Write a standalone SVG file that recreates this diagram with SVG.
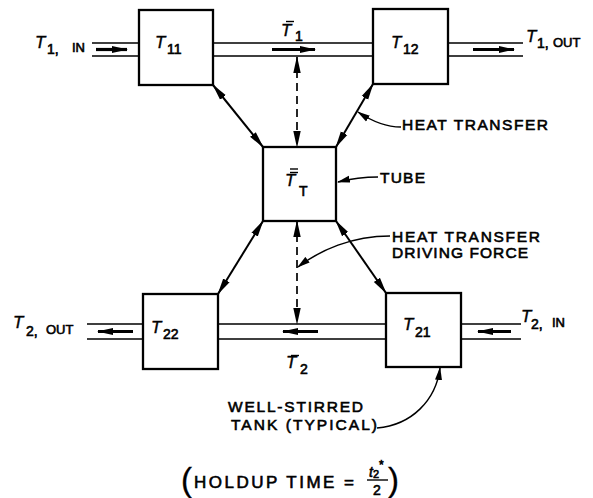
<svg xmlns="http://www.w3.org/2000/svg" width="593" height="498" viewBox="0 0 593 498">
<style>
.box{fill:#fff;stroke:#000;stroke-width:2.3}
.pipe{stroke:#000;stroke-width:1.7;fill:none}
.flow{stroke:#000;stroke-width:3.2;fill:none}
.link{stroke:#000;stroke-width:2;fill:none}
.dash{stroke:#000;stroke-width:1.7;fill:none;stroke-dasharray:8 5}
.lead{stroke:#000;stroke-width:1.5;fill:none}
.lbl{font-family:"Liberation Sans",Arial,sans-serif;font-size:15.5px;fill:#000;stroke:#000;stroke-width:0.6}
.T{font-family:"Liberation Sans",Arial,sans-serif;font-style:italic;font-size:17px;fill:#000;stroke:#000;stroke-width:0.4}
.sub{font-family:"Liberation Sans",Arial,sans-serif;font-size:14px;fill:#000;stroke:#000;stroke-width:0.6}
.sm{font-family:"Liberation Sans",Arial,sans-serif;font-size:13px;fill:#000;stroke:#000;stroke-width:0.6}
.bar{stroke:#000;stroke-width:1.4}
</style>
<defs>
<marker id="ah" markerUnits="userSpaceOnUse" markerWidth="17" markerHeight="9" refX="16" refY="4.5" orient="auto-start-reverse">
<path d="M0,0.8 L17,4.5 L0,8.2 Z" fill="#000"/>
</marker>
<marker id="fh" markerUnits="userSpaceOnUse" markerWidth="16" markerHeight="8" refX="15" refY="4" orient="auto">
<path d="M0,0.5 L16,4 L0,7.5 Z" fill="#000"/>
</marker>
<marker id="lh" markerUnits="userSpaceOnUse" markerWidth="13" markerHeight="8" refX="12" refY="4" orient="auto">
<path d="M0,0.5 L13,4 L0,7.5 Z" fill="#000"/>
</marker>
</defs>

<g id="connectors">
<path class="pipe" d="M92,43 H139 M92,56 H139 M213,43 H373 M213,56 H373 M448,43 H523 M448,56 H523"/>
<path class="pipe" d="M87,324 H143 M87,339 H143 M218,324 H386 M218,339 H386 M461,324 H521 M461,339 H521"/>
<path class="flow" d="M96,49.5 H127" marker-end="url(#fh)"/>
<path class="flow" d="M272,49.5 H315" marker-end="url(#fh)"/>
<path class="flow" d="M473,49.5 H514" marker-end="url(#fh)"/>
<path class="flow" d="M133,331.5 H98" marker-end="url(#fh)"/>
<path class="flow" d="M318,331.5 H283" marker-end="url(#fh)"/>
<path class="flow" d="M511,331.5 H478" marker-end="url(#fh)"/>
<path class="link" d="M213,85 L263,147" marker-start="url(#ah)" marker-end="url(#ah)"/>
<path class="link" d="M373,84 L336,147" marker-start="url(#ah)" marker-end="url(#ah)"/>
<path class="link" d="M263,221 L218,294" marker-start="url(#ah)" marker-end="url(#ah)"/>
<path class="link" d="M336,221 L386,293" marker-start="url(#ah)" marker-end="url(#ah)"/>
<path class="dash" d="M297,57 V147" marker-start="url(#ah)" marker-end="url(#ah)"/>
<path class="dash" d="M297,221 V324" marker-start="url(#ah)" marker-end="url(#ah)"/>
<path class="lead" d="M401,127 C385,127 370,120 358,112" marker-end="url(#lh)"/>
<path class="lead" d="M378,177 C362,177 350,179 338,182" marker-end="url(#lh)"/>
<path class="lead" d="M390,236 C352,236 320,250 298,267" marker-end="url(#lh)"/>
<path class="lead" d="M377,428 C412,425 436,400 440,368" marker-end="url(#lh)"/>
</g>

<g id="T11">
<rect class="box" x="139" y="10" width="74" height="75"/>
<text class="T" x="155" y="48">T</text><text class="sub" x="167" y="54">11</text>
</g>
<g id="T12">
<rect class="box" x="373" y="9" width="75" height="75"/>
<text class="T" x="391" y="48">T</text><text class="sub" x="403" y="54">12</text>
</g>
<g id="tube">
<rect class="box" x="263" y="147" width="73" height="74"/>
<line class="bar" x1="290" y1="169" x2="298" y2="169"/>
<line class="bar" x1="290" y1="172.5" x2="298" y2="172.5"/>
<text class="T" x="285" y="186">T</text><text class="sub" x="299" y="196">T</text>
</g>
<g id="T22">
<rect class="box" x="143" y="294" width="75" height="75"/>
<text class="T" x="151" y="333">T</text><text class="sub" x="163" y="339">22</text>
</g>
<g id="T21">
<rect class="box" x="386" y="293" width="75" height="74"/>
<text class="T" x="403" y="330">T</text><text class="sub" x="415" y="337">21</text>
</g>

<g id="labels">
<line class="bar" x1="286" y1="21.5" x2="294" y2="21.5"/>
<text class="T" x="281" y="36">T</text><text class="sub" x="295" y="41">1</text>
<line class="bar" x1="291" y1="355.5" x2="299" y2="355.5"/>
<text class="T" x="286" y="368">T</text><text class="sub" x="300" y="374">2</text>
<text class="T" x="35" y="48">T</text><text class="sub" x="47" y="54">1,</text><text class="sm" x="72" y="52">IN</text>
<text class="T" x="526" y="42">T</text><text class="sub" x="537" y="48">1,</text><text class="sm" x="553" y="47">OUT</text>
<text class="T" x="13" y="328">T</text><text class="sub" x="26" y="336">2,</text><text class="sm" x="46" y="334">OUT</text>
<text class="T" x="521" y="322">T</text><text class="sub" x="531" y="329">2,</text><text class="sm" x="552" y="327">IN</text>

<text class="lbl" x="402" y="130" textLength="146" lengthAdjust="spacing">HEAT TRANSFER</text>
<text class="lbl" x="380" y="183" textLength="45" lengthAdjust="spacing">TUBE</text>
<text class="lbl" x="392" y="242" textLength="148" lengthAdjust="spacing">HEAT TRANSFER</text>
<text class="lbl" x="392" y="258" textLength="136" lengthAdjust="spacing">DRIVING FORCE</text>
<text class="lbl" x="228" y="412" textLength="135" lengthAdjust="spacing">WELL-STIRRED</text>
<text class="lbl" x="231" y="430" textLength="146" lengthAdjust="spacing">TANK (TYPICAL)</text>

<text class="lbl" x="181" y="491" style="font-size:33px;stroke-width:0.3">(</text>
<text class="lbl" x="194" y="488" textLength="160" lengthAdjust="spacing" style="font-size:17px">HOLDUP  TIME  =</text>
<text class="sm" x="369" y="477"><tspan style="font-style:italic;font-size:14px">t</tspan><tspan dy="1" style="font-size:11px">2</tspan><tspan dy="-9" style="font-size:12px">*</tspan></text>
<line class="bar" x1="367" y1="480" x2="388" y2="480"/>
<text class="sub" x="373" y="495">2</text>
<text class="lbl" x="388" y="491" style="font-size:33px;stroke-width:0.3">)</text>
</g>
</svg>
